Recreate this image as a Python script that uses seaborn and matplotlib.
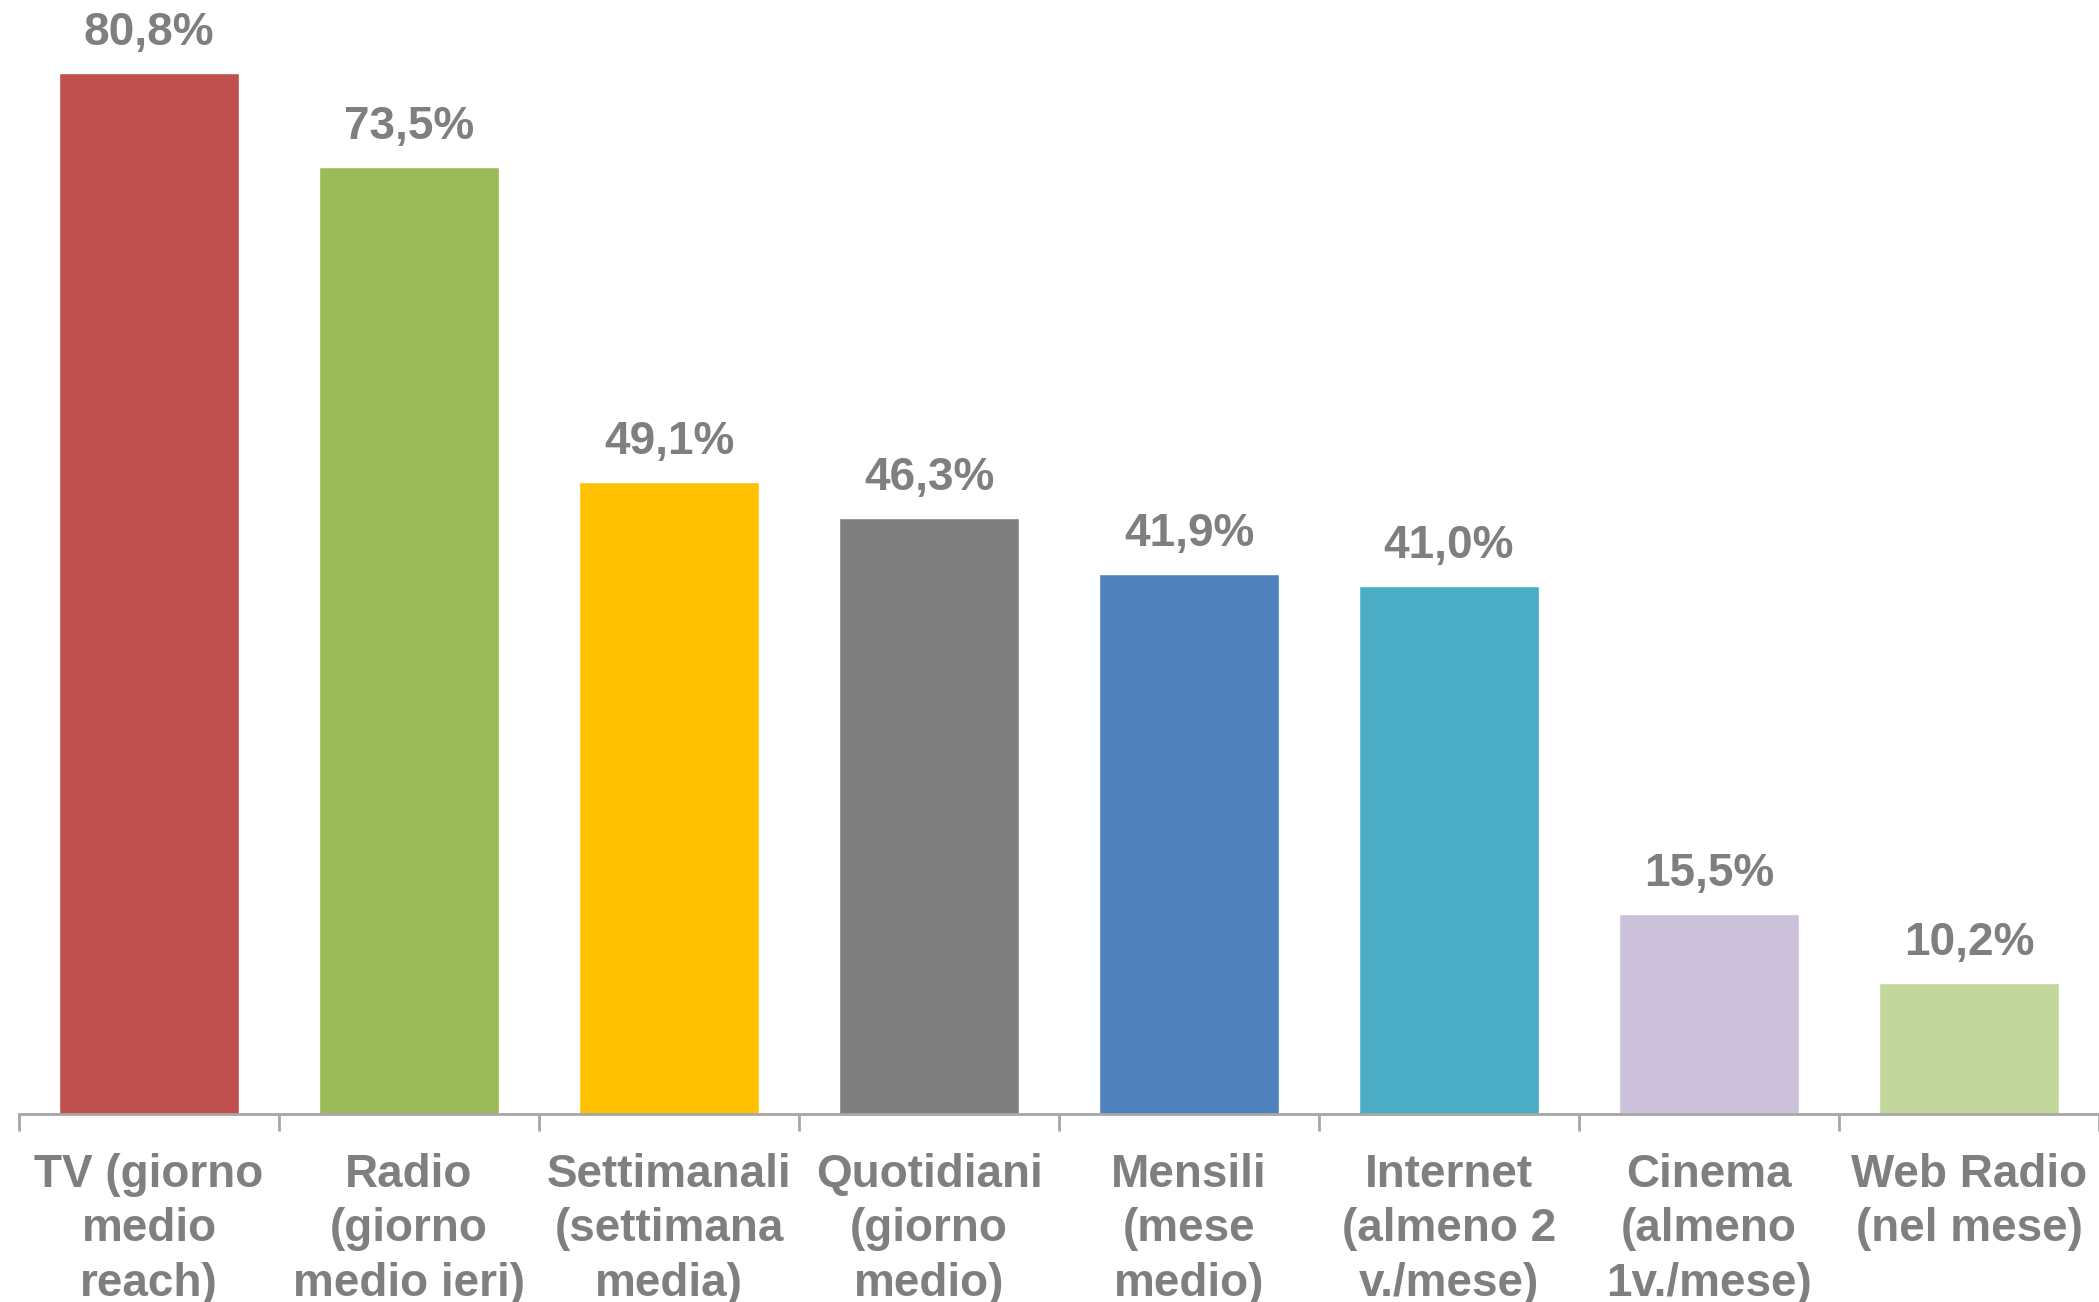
import matplotlib
matplotlib.use("Agg")
import matplotlib.pyplot as plt
import seaborn as sns
import pandas as pd
from matplotlib.ticker import FixedLocator

categories = ["TV", "Radio", "Settimanali", "Quotidiani", "Mensili", "Internet", "Cinema", "Web Radio"]
values = [80.8, 73.5, 49.1, 46.3, 41.9, 41.0, 15.5, 10.2]
tick_labels = [
    "TV (giorno\nmedio\nreach)",
    "Radio\n(giorno\nmedio ieri)",
    "Settimanali\n(settimana\nmedia)",
    "Quotidiani\n(giorno\nmedio)",
    "Mensili\n(mese\nmedio)",
    "Internet\n(almeno 2\nv./mese)",
    "Cinema\n(almeno\n1v./mese)",
    "Web Radio\n(nel mese)",
]
colors = ["#C0504D", "#9BBB59", "#FFC000", "#7F7F7F", "#4F81BD", "#4BACC6", "#CCC1DA", "#C3D69B"]

sns.set_theme(style="white")
plt.rcParams["font.family"] = ["Liberation Sans", "DejaVu Sans"]

df = pd.DataFrame({"cat": categories, "val": values})

fig = plt.figure(figsize=(20.99, 13.02), dpi=100)
ax = fig.add_axes([19 / 2099, 188 / 1302, 1 - 19 / 2099, 1114 / 1302])

sns.barplot(data=df, x="cat", y="val", hue="cat", palette=colors, legend=False,
            width=0.69, dodge=False, ax=ax, saturation=1, zorder=3)

ax.set_xlim(-0.5, len(categories) - 0.5)
ax.set_ylim(0, 86.5)

text_color = "#7F7F7F"
for i, v in enumerate(values):
    ax.annotate(f"{v:.1f}".replace(".", ",") + "%", xy=(i, v), xytext=(0, 13),
                textcoords="offset points", ha="center", va="bottom",
                fontsize=33, fontweight="bold", color=text_color)

for s in ["left", "top", "right"]:
    ax.spines[s].set_visible(False)
ax.spines["bottom"].set_color("#A6A6A6")
ax.spines["bottom"].set_linewidth(2)
ax.spines["bottom"].set_zorder(4)

ax.set_yticks([])
ax.set_xlabel("")
ax.set_ylabel("")
ax.xaxis.set_major_locator(FixedLocator(range(len(categories))))
ax.set_xticklabels(tick_labels, fontsize=33, fontweight="bold", color=text_color, linespacing=1.31)
ax.xaxis.set_minor_locator(FixedLocator([i - 0.5 for i in range(len(categories) + 1)]))
ax.tick_params(axis="x", which="major", length=0, pad=28)
ax.tick_params(axis="x", which="minor", length=12, width=2, color="#A6A6A6", direction="out", bottom=True)

fig.savefig("out.png", dpi=100, facecolor="white")
